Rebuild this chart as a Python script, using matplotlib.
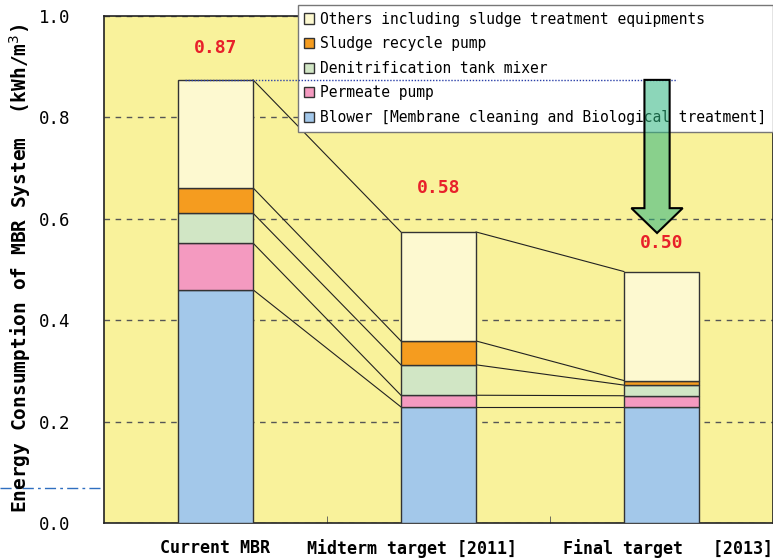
import numpy as np
import matplotlib
matplotlib.use("Agg")
import matplotlib.pyplot as plt
from matplotlib.patches import FancyArrow
from matplotlib.lines import Line2D

# data (kWh/m3)
categories = ["Current MBR", "Midterm target [2011]", "Final target   [2013]"]
blower = [0.46, 0.229, 0.229]
permeate = [0.092, 0.023, 0.022]
denitrification = [0.059, 0.060, 0.021]
sludge_recycle = [0.050, 0.047, 0.009]
others = [0.213, 0.215, 0.215]
total_labels = ["0.87", "0.58", "0.50"]

series_names = [
    "Blower [Membrane cleaning and Biological treatment]",
    "Permeate pump",
    "Denitrification tank mixer",
    "Sludge recycle pump",
    "Others including sludge treatment equipments",
]
series = [blower, permeate, denitrification, sludge_recycle, others]
colors = ["#a3c8ea", "#f49ac0", "#d1e6c5", "#f59c1f", "#fdf9d0"]

mono = "DejaVu Sans Mono"
plt.rcParams["font.family"] = mono

fig = plt.figure(figsize=(7.73, 5.6), dpi=100)
ax = fig.add_axes([104 / 773, 1 - 523 / 560, 1 - 104 / 773, (523 - 16) / 560])
ax.set_facecolor("#f9f29b")

x = np.arange(len(categories))
bw = 0.337
bottom = np.zeros(len(categories))
levels = []
handles = []
for vals, name, c in zip(series, series_names, colors):
    h = ax.bar(x, vals, bw, bottom=bottom, color=c, edgecolor="#333333",
               linewidth=1, label=name, zorder=3)
    handles.append(h)
    bottom = bottom + np.array(vals)
    levels.append(bottom.copy())

# connector lines between neighbouring bars
for lev in levels:
    for i in range(len(x) - 1):
        ax.plot([x[i] + bw / 2, x[i + 1] - bw / 2], [lev[i], lev[i + 1]],
                color="#222222", lw=0.8, zorder=2)

totals = levels[-1]
label_y = [0.937, 0.66, 0.553]
for i, t in enumerate(total_labels):
    ax.text(x[i], label_y[i], t, color="#e8202a", fontsize=13, fontweight="bold",
            ha="center", va="center", zorder=4)

# dotted reference line at current total
ax.plot([x[0] - bw / 2 + 0.03, x[2] + 0.07], [totals[0], totals[0]],
        color="#2a3fa8", lw=1, linestyle=(0, (1, 1.2)), zorder=7)

# reduction arrow
arr = FancyArrow(x[2] - 0.02, totals[0], 0, -(totals[0] - totals[2] - 0.076),
                 width=0.113, head_width=0.23, head_length=0.049,
                 length_includes_head=True, facecolor=(0.18, 0.71, 0.5, 0.55),
                 edgecolor="black", linewidth=1.5, zorder=8)
ax.add_patch(arr)

ax.set_xlim(-0.5, 2.5)
ax.set_ylim(0, 1.0)
ax.set_yticks(np.arange(0, 1.01, 0.2))
ax.set_yticklabels([f"{v:.1f}" for v in np.arange(0, 1.01, 0.2)], fontsize=12.5)
ax.set_xticks(x)
ax.set_xticklabels([])
ax.set_xticks([0.5, 1.5], minor=True)
ax.tick_params(axis="y", length=0, pad=24)
ax.tick_params(axis="x", which="major", length=0)
ax.tick_params(axis="x", which="minor", direction="in", length=5, color="#555555")
ax.yaxis.grid(True, linestyle=(0, (4, 4)), color="#555555", lw=1)
ax.set_axisbelow(True)
for s in ax.spines.values():
    s.set_color("#222222")
    s.set_linewidth(1.2)

# category labels, placed as in the reference
xt = ax.get_xaxis_transform()
lab_x = [x[0], x[1] + 0.35, x[2] + 0.5]
lab_ha = ["center", "right", "right"]
for lx, ha, lab in zip(lab_x, lab_ha, categories):
    ax.text(lx, -0.05, lab, transform=xt, ha=ha, va="center", fontsize=12,
            fontweight="bold")

fig.text(20 / 773, 1 - 268 / 560, "Energy Consumption of MBR System  (kWh/m$^3$)",
         rotation=90, ha="center", va="center", fontsize=14, fontweight="bold")

# stray dash-dot mark left of the axes
fig.add_artist(Line2D([0, 104 / 773], [1 - 488 / 560, 1 - 488 / 560],
                      color="#2f6fc0", lw=1, linestyle=(0, (8, 3, 2, 3))))

leg = ax.legend(handles[::-1], series_names[::-1], loc="upper right",
                bbox_to_anchor=(1.0, 1 + 11 / 507), fontsize=10.5,
                handlelength=0.7, handleheight=0.7, handletextpad=0.4,
                labelspacing=0.66, borderpad=0.45, borderaxespad=0,
                fancybox=False, framealpha=1, edgecolor="#777777")
leg.set_zorder(6)

fig.savefig("out.png", dpi=100)
